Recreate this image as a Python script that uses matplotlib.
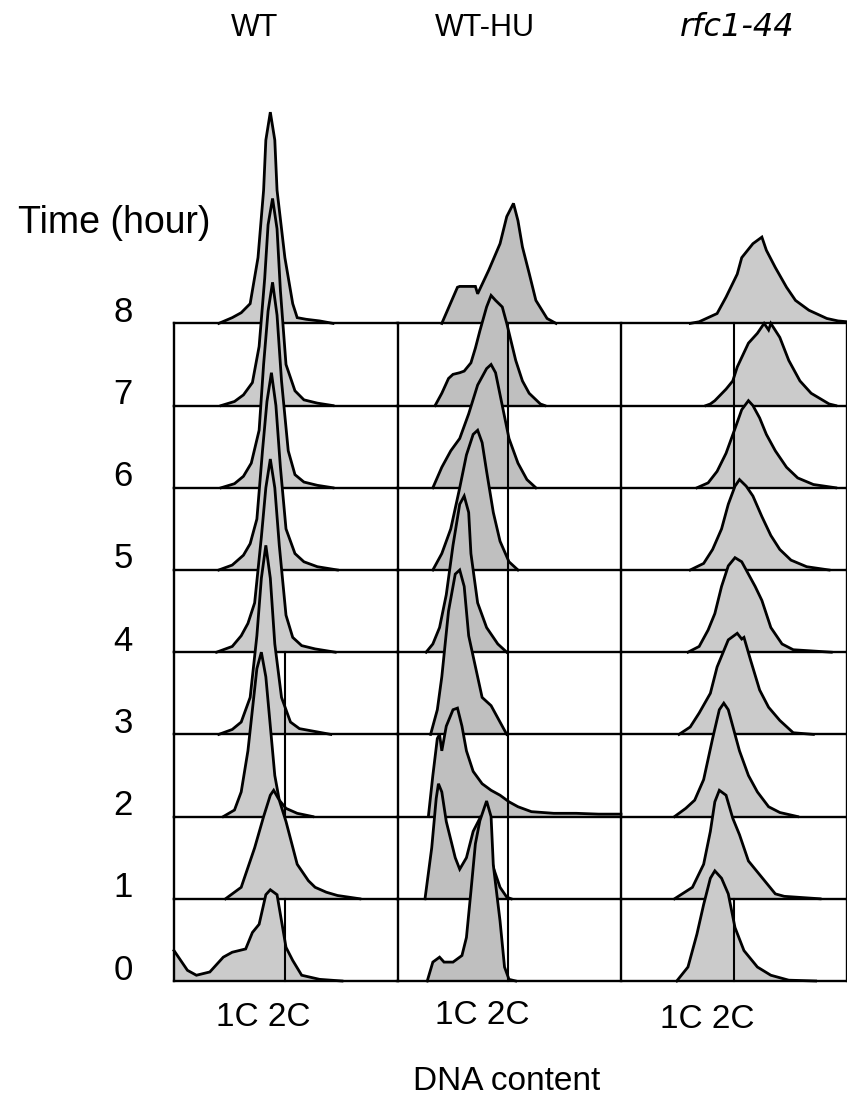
import matplotlib
matplotlib.use("Agg")
from matplotlib import pyplot as plt

# Histogram profiles.
# x: fraction of the panel width (DNA content), y: height in row units.
# Index 0 of each list is the 0 h row, index 8 the 8 h row.
WT_X = [
    [0.0, 0.03, 0.06, 0.10, 0.16, 0.22, 0.26, 0.32, 0.35, 0.38, 0.41, 0.43, 0.46, 0.48, 0.50, 0.53, 0.57, 0.65, 0.75],
    [0.23, 0.30, 0.36, 0.40, 0.43, 0.445, 0.47, 0.50, 0.55, 0.60, 0.63, 0.68, 0.73, 0.83],
    [0.22, 0.27, 0.30, 0.33, 0.35, 0.37, 0.39, 0.41, 0.43, 0.45, 0.47, 0.50, 0.55, 0.62],
    [0.20, 0.26, 0.30, 0.34, 0.37, 0.39, 0.41, 0.43, 0.45, 0.48, 0.52, 0.56, 0.62, 0.70],
    [0.19, 0.26, 0.30, 0.33, 0.36, 0.39, 0.41, 0.43, 0.45, 0.47, 0.50, 0.53, 0.57, 0.63, 0.72],
    [0.20, 0.26, 0.31, 0.34, 0.37, 0.395, 0.415, 0.435, 0.455, 0.475, 0.50, 0.54, 0.58, 0.64, 0.73],
    [0.21, 0.27, 0.31, 0.345, 0.38, 0.40, 0.42, 0.44, 0.46, 0.48, 0.51, 0.54, 0.58, 0.64, 0.71],
    [0.21, 0.27, 0.31, 0.35, 0.38, 0.405, 0.42, 0.44, 0.46, 0.475, 0.50, 0.54, 0.58, 0.64, 0.71],
    [0.20, 0.26, 0.30, 0.34, 0.375, 0.40, 0.41, 0.43, 0.45, 0.46, 0.495, 0.53, 0.55, 0.59, 0.65, 0.71],
]
WT_Y = [
    [0.37, 0.25, 0.13, 0.07, 0.11, 0.29, 0.35, 0.39, 0.59, 0.69, 1.05, 1.11, 1.05, 0.73, 0.41, 0.25, 0.07, 0.02, 0.0],
    [0.0, 0.14, 0.62, 1.0, 1.26, 1.32, 1.2, 0.94, 0.42, 0.22, 0.14, 0.08, 0.04, 0.0],
    [0.0, 0.08, 0.3, 0.8, 1.3, 1.8, 2.0, 1.7, 1.1, 0.5, 0.2, 0.1, 0.04, 0.0],
    [0.0, 0.06, 0.15, 0.45, 1.2, 1.9, 2.3, 1.9, 1.1, 0.45, 0.15, 0.07, 0.04, 0.0],
    [0.0, 0.07, 0.2, 0.35, 0.6, 1.4, 2.0, 2.35, 2.0, 1.3, 0.45, 0.18, 0.08, 0.04, 0.0],
    [0.0, 0.06, 0.18, 0.32, 0.62, 1.45, 2.05, 2.4, 2.0, 1.25, 0.5, 0.2, 0.1, 0.04, 0.0],
    [0.0, 0.05, 0.14, 0.3, 0.7, 1.5, 2.15, 2.5, 2.1, 1.3, 0.45, 0.16, 0.07, 0.03, 0.0],
    [0.0, 0.05, 0.13, 0.28, 0.72, 1.55, 2.2, 2.52, 2.15, 1.4, 0.5, 0.18, 0.07, 0.03, 0.0],
    [0.0, 0.07, 0.13, 0.24, 0.8, 1.62, 2.23, 2.57, 2.23, 1.62, 0.8, 0.24, 0.07, 0.05, 0.03, 0.0],
]

HU_X = [
    [0.135, 0.16, 0.19, 0.21, 0.25, 0.29, 0.31, 0.33, 0.35, 0.37, 0.40, 0.42, 0.43, 0.46, 0.48, 0.50, 0.53],
    [0.125, 0.155, 0.175, 0.185, 0.20, 0.22, 0.26, 0.28, 0.31, 0.34, 0.37, 0.40, 0.43, 0.46, 0.49, 0.51],
    [0.14, 0.16, 0.18, 0.19, 0.20, 0.22, 0.25, 0.27, 0.29, 0.31, 0.34, 0.38, 0.42, 0.46, 0.50, 0.54, 0.60, 0.70, 0.80, 0.90, 1.0],
    [0.15, 0.18, 0.20, 0.23, 0.26, 0.28, 0.30, 0.32, 0.36, 0.38, 0.42, 0.46, 0.48, 0.49],
    [0.13, 0.16, 0.19, 0.22, 0.25, 0.28, 0.30, 0.32, 0.33, 0.36, 0.40, 0.45, 0.49],
    [0.16, 0.20, 0.24, 0.28, 0.31, 0.34, 0.36, 0.38, 0.40, 0.43, 0.46, 0.50, 0.54],
    [0.16, 0.20, 0.24, 0.28, 0.32, 0.36, 0.40, 0.42, 0.44, 0.47, 0.50, 0.54, 0.58, 0.62],
    [0.17, 0.20, 0.23, 0.25, 0.28, 0.30, 0.33, 0.35, 0.37, 0.40, 0.42, 0.44, 0.47, 0.49, 0.53, 0.56, 0.59, 0.64, 0.66],
    [0.20, 0.27, 0.28, 0.31, 0.35, 0.36, 0.41, 0.46, 0.49, 0.52, 0.54, 0.56, 0.59, 0.62, 0.67, 0.71],
]
HU_Y = [
    [0.0, 0.23, 0.29, 0.23, 0.23, 0.31, 0.53, 1.09, 1.67, 1.95, 2.19, 2.0, 1.41, 0.73, 0.17, 0.02, 0.0],
    [0.0, 0.62, 1.22, 1.4, 1.3, 0.94, 0.5, 0.36, 0.5, 0.82, 0.98, 0.78, 0.38, 0.14, 0.02, 0.0],
    [0.0, 0.5, 0.95, 1.0, 0.8, 1.1, 1.3, 1.32, 1.1, 0.8, 0.55, 0.4, 0.32, 0.26, 0.18, 0.12, 0.06, 0.04, 0.04, 0.03, 0.03],
    [0.0, 0.3, 0.7, 1.5, 1.95, 2.0, 1.8, 1.2, 0.7, 0.45, 0.35, 0.15, 0.05, 0.0],
    [0.0, 0.1, 0.3, 0.7, 1.3, 1.8, 1.9, 1.7, 1.2, 0.6, 0.3, 0.1, 0.0],
    [0.0, 0.2, 0.5, 1.0, 1.4, 1.65, 1.7, 1.55, 1.2, 0.7, 0.35, 0.1, 0.0],
    [0.0, 0.25, 0.45, 0.6, 0.9, 1.25, 1.45, 1.5, 1.4, 1.0, 0.6, 0.3, 0.1, 0.0],
    [0.0, 0.15, 0.33, 0.38, 0.4, 0.42, 0.52, 0.7, 0.91, 1.2, 1.34, 1.28, 1.2, 1.0, 0.55, 0.3, 0.15, 0.02, 0.0],
    [0.0, 0.44, 0.45, 0.45, 0.45, 0.36, 0.65, 0.97, 1.3, 1.46, 1.25, 0.93, 0.61, 0.28, 0.06, 0.0],
]

RFC_X = [
    [0.24, 0.29, 0.33, 0.36, 0.39, 0.41, 0.44, 0.47, 0.50, 0.54, 0.60, 0.66, 0.74, 0.86],
    [0.23, 0.31, 0.36, 0.39, 0.41, 0.43, 0.46, 0.49, 0.52, 0.56, 0.62, 0.68, 0.72, 0.88],
    [0.23, 0.28, 0.32, 0.36, 0.40, 0.43, 0.45, 0.47, 0.50, 0.52, 0.56, 0.60, 0.65, 0.70, 0.78],
    [0.25, 0.30, 0.34, 0.39, 0.42, 0.47, 0.51, 0.53, 0.54, 0.57, 0.61, 0.65, 0.70, 0.76, 0.85],
    [0.29, 0.34, 0.38, 0.41, 0.44, 0.47, 0.50, 0.53, 0.56, 0.59, 0.62, 0.66, 0.71, 0.76, 0.93],
    [0.30, 0.36, 0.40, 0.44, 0.47, 0.50, 0.52, 0.55, 0.58, 0.62, 0.66, 0.70, 0.75, 0.82, 0.92],
    [0.33, 0.38, 0.42, 0.46, 0.50, 0.53, 0.56, 0.58, 0.61, 0.64, 0.68, 0.73, 0.78, 0.85, 0.95],
    [0.37, 0.39, 0.41, 0.46, 0.49, 0.51, 0.56, 0.60, 0.63, 0.65, 0.66, 0.70, 0.74, 0.79, 0.84, 0.92, 0.95],
    [0.30, 0.34, 0.42, 0.46, 0.51, 0.53, 0.58, 0.62, 0.64, 0.68, 0.73, 0.77, 0.83, 0.91, 0.96, 1.0],
]
RFC_Y = [
    [0.0, 0.17, 0.57, 0.93, 1.25, 1.34, 1.25, 1.06, 0.65, 0.37, 0.17, 0.07, 0.01, 0.0],
    [0.0, 0.14, 0.42, 0.82, 1.18, 1.32, 1.26, 0.98, 0.78, 0.46, 0.26, 0.06, 0.03, 0.0],
    [0.0, 0.1, 0.2, 0.45, 0.95, 1.3, 1.38, 1.3, 1.0, 0.8, 0.5, 0.3, 0.12, 0.05, 0.0],
    [0.0, 0.09, 0.26, 0.5, 0.82, 1.15, 1.23, 1.16, 1.18, 0.9, 0.54, 0.33, 0.17, 0.02, 0.0],
    [0.0, 0.07, 0.27, 0.47, 0.8, 1.05, 1.15, 1.1, 0.95, 0.8, 0.63, 0.3, 0.1, 0.03, 0.0],
    [0.0, 0.08, 0.25, 0.5, 0.8, 1.02, 1.1, 1.02, 0.9, 0.65, 0.42, 0.25, 0.12, 0.04, 0.0],
    [0.0, 0.06, 0.2, 0.42, 0.72, 0.95, 1.06, 1.0, 0.85, 0.65, 0.45, 0.25, 0.12, 0.04, 0.0],
    [0.0, 0.02, 0.06, 0.2, 0.3, 0.47, 0.76, 0.88, 1.0, 0.92, 1.0, 0.83, 0.55, 0.3, 0.15, 0.02, 0.0],
    [0.0, 0.02, 0.12, 0.32, 0.6, 0.8, 0.97, 1.05, 0.89, 0.68, 0.44, 0.28, 0.16, 0.06, 0.03, 0.02],
]

STRAINS = ["WT", "WT-HU", "rfc1-44"]
HOURS = [0, 1, 2, 3, 4, 5, 6, 7, 8]
GATE_ROWS = [[0, 2, 3], [0, 1, 2, 3, 4, 5, 6, 7], [0, 6, 7]]
GATE_POS = 0.495

W, H = 847, 1103
COL_LEFT = [174, 397, 623]
COL_W = 224
ROW_H = 82.2
BASE0 = 981
YMAX = 10.8

fig = plt.figure(figsize=(W / 100, H / 100), dpi=100)
fig.patch.set_facecolor("white")

columns = [(WT_X, WT_Y, "#cbcbcb"), (HU_X, HU_Y, "#bfbfbf"), (RFC_X, RFC_Y, "#cbcbcb")]

for c, (xs, ys, fill) in enumerate(columns):
    ax = fig.add_axes([COL_LEFT[c] / W, (H - BASE0) / H, COL_W / W, YMAX * ROW_H / H])
    ax.set_xlim(0, 1)
    ax.set_ylim(0, YMAX)
    ax.axis("off")
    for r in range(8, -1, -1):
        z = 2 + 2 * (8 - r)
        top = [r + v for v in ys[r]]
        ax.fill_between(xs[r], r, top, facecolor=fill, edgecolor="none",
                        zorder=z, clip_on=False)
        ax.plot(xs[r], top, color="black", lw=2.0, zorder=z + 0.2,
                clip_on=False, solid_joinstyle="miter")
        # baseline of this row, hidden where the row below rises over it
        ax.plot([0, 1], [r, r], color="black", lw=1.7, zorder=z + 1, clip_on=False)
    for r in range(8):
        if c == 0:
            ax.plot([0, 0], [r, r + 1], color="black", lw=1.7, zorder=60, clip_on=False)
        ax.plot([1, 1], [r, r + 1], color="black", lw=1.7, zorder=60, clip_on=False)
    for r in GATE_ROWS[c]:
        ax.plot([GATE_POS, GATE_POS], [r, r + 1], color="black", lw=1.5,
                zorder=60, clip_on=False)


def fx(px):
    return px / W


def fy(py):
    return 1 - py / H


font = "Liberation Sans"
fig.text(fx(255), fy(28), STRAINS[0], ha="center", va="center", fontsize=22, family=font)
fig.text(fx(485), fy(28), STRAINS[1], ha="center", va="center", fontsize=22, family=font)
fig.text(fx(737), fy(28), STRAINS[2], ha="center", va="center", fontsize=23,
         family="DejaVu Sans", style="italic")
fig.text(fx(114), fy(223), "Time (hour)", ha="center", va="center", fontsize=27, family=font)
for h in HOURS:
    fig.text(fx(123), fy(BASE0 - h * ROW_H - 11), str(h), ha="center", va="center",
             fontsize=25, family=font)
for xc, yc in [(263, 1018), (482, 1015), (707, 1020)]:
    fig.text(fx(xc), fy(yc), "1C 2C", ha="center", va="center", fontsize=24, family=font)
fig.text(fx(507), fy(1082), "DNA content", ha="center", va="center", fontsize=24, family=font)

fig.savefig("out.png", dpi=100, facecolor="white")
plt.close(fig)
